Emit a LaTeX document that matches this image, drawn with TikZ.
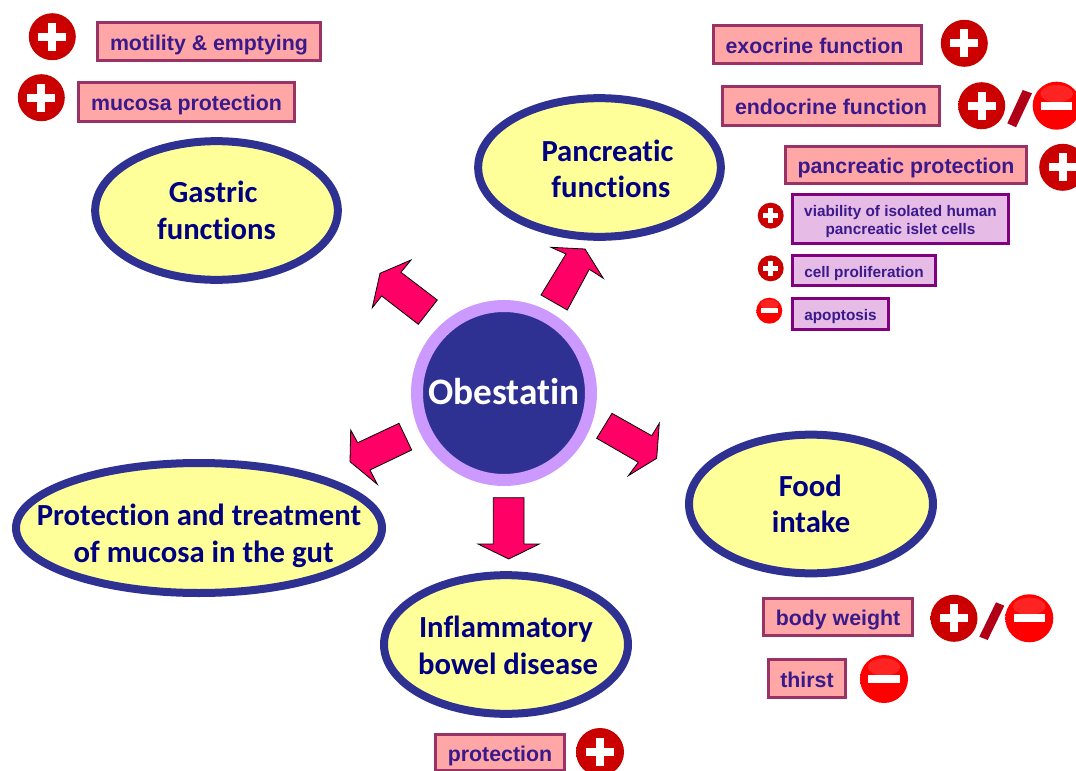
\documentclass[tikz,border=0pt]{standalone}
\usepackage{fontspec}
\usetikzlibrary{shapes.geometric}
\setmainfont{Liberation Sans}
\newfontfamily\carlito[Ligatures=NoCommon]{Carlito}
\definecolor{ringblue}{HTML}{2E3192}
\definecolor{ellfill}{HTML}{FFFF99}
\definecolor{ellbord}{HTML}{2E3192}
\definecolor{ellink}{HTML}{000080}
\definecolor{boxfill}{HTML}{FFA6A6}
\definecolor{boxbord}{HTML}{993366}
\definecolor{boxink}{HTML}{3A1A8A}
\definecolor{subfill}{HTML}{E6BBE6}
\definecolor{subbord}{HTML}{800080}
\definecolor{arrowred}{HTML}{FF0066}
\definecolor{halo}{HTML}{CC99FF}
\definecolor{slashred}{HTML}{B00018}
\definecolor{pa}{HTML}{D80000}
\definecolor{pb}{HTML}{BE0000}
\definecolor{pc}{HTML}{7E0000}
\definecolor{ma}{HTML}{FF0000}
\definecolor{mb}{HTML}{FF6060}
\definecolor{mc}{HTML}{F01A1A}
\definecolor{md}{HTML}{C00000}
\pgfdeclareradialshading{plusshade}{\pgfpoint{0bp}{0bp}}{color(0bp)=(pa); color(36bp)=(pb); color(50bp)=(pc); color(100bp)=(pc)}
\pgfdeclareradialshading{minusshade}{\pgfpoint{0bp}{0bp}}{color(0bp)=(ma); color(40bp)=(ma); color(44bp)=(mb); color(47bp)=(mc); color(50bp)=(md); color(100bp)=(md)}
\tikzset{
  x=0.75pt,y=-0.75pt,
  ellipsebox/.style={ellipse,draw=ellbord,line width=6pt,fill=ellfill,inner sep=-30pt,
     text=ellink,align=center,font=\carlito\bfseries\fontsize{23}{27.5}\selectfont},
  pinkbox/.style={rectangle,draw=boxbord,line width=2pt,fill=boxfill,inner sep=0pt,
     text height=16pt,text depth=3.2pt,
     text=boxink,font=\bfseries\fontsize{16}{18}\selectfont},
  lilacbase/.style={rectangle,draw=subbord,line width=2pt,fill=subfill,inner sep=0pt,
     text=boxink,font=\bfseries\fontsize{11.5}{13.5}\selectfont},
  lilacbox/.style={lilacbase,text height=12.65pt,text depth=2.53pt},
  lilactwo/.style={lilacbase,align=center},
  blockarrow/.style={draw=black,line width=0.6pt,fill=arrowred,line join=miter},
  plusball/.style={circle,inner sep=0pt,draw=none,shading=plusshade},
  minusball/.style={circle,inner sep=0pt,draw=none,shading=minusshade},
  signbar/.style={fill=white,draw=none},
  slash/.style={fill=slashred,draw=none},
}
\newcommand{\plussign}[4]{% name x y r
  \node[plusball,minimum size=#4*1.5pt] (#1) at (#2,#3) {};
  \fill[signbar] (#2-#4*0.59,#3-#4*0.17) rectangle (#2+#4*0.59,#3+#4*0.17);
  \fill[signbar] (#2-#4*0.17,#3-#4*0.59) rectangle (#2+#4*0.17,#3+#4*0.59);
}
\newcommand{\minussign}[4]{%
  \node[minusball,minimum size=#4*1.5pt] (#1) at (#2,#3) {};
  \fill[white,opacity=.14] (#2,#3-#4*0.5) ellipse ({#4*0.68} and {#4*0.36});
  \fill[signbar] (#2-#4*0.65,#3-#4*0.17) rectangle (#2+#4*0.65,#3+#4*0.17);
}
\newcommand{\labelbox}[7]{% style name x1 y1 x2 y2 text
  \node[#1,minimum width=(#5-#3)*0.75pt-2pt,minimum height=(#6-#4)*0.75pt-2pt] (#2) at ({(#3+#5)/2},{(#4+#6)/2}) {#7};
}
\begin{document}
\begin{tikzpicture}
\useasboundingbox (0,0) rectangle (1076,771);
\clip (0,0) rectangle (1076,771);
\fill[white] (0,0) rectangle (1076,771);

% block arrows
\draw[blockarrow] (541,295) -- (566,254) -- (551,247.3) -- (585,249) -- (603.3,278.3) -- (589.3,269.3) -- (567.3,310) -- cycle;
\draw[blockarrow] (437.3,300) -- (418.3,324.3) -- (381.7,296) -- (372.3,307.7) -- (380,273.3) -- (411,260) -- (401,272.3) -- cycle;
\draw[blockarrow] (612,413.3) -- (596.7,438.3) -- (638.3,462.3) -- (628.3,475.7) -- (656.7,458.3) -- (659.3,423.3) -- (651.7,435.7) -- cycle;
\draw[blockarrow] (399,423.3) -- (411.7,450) -- (370,470) -- (377.3,484.3) -- (350,461.7) -- (350.7,430) -- (357.7,442.7) -- cycle;
\draw[blockarrow] (493.3,497.7) -- (524,497.7) -- (524,544) -- (539.3,544) -- (508.7,559) -- (478,544) -- (493.3,544) -- cycle;

% centre
\node[circle,fill=ringblue,draw=halo,line width=9pt,minimum size=174*.75pt,inner sep=-20pt,text=white,
      font=\carlito\bfseries\fontsize{28}{30}\selectfont] (obestatin) at (504,393) {\raisebox{2.5pt}{Obestatin}};

% ellipses
\node[ellipsebox,minimum width=182pt,minimum height=104pt] (gastric) at (216.5,210.5) {Gastric\hspace*{5pt}\\functions};
\node[ellipsebox,minimum width=182pt,minimum height=104pt] (pancreas) at (599.5,167.5) {\rule{0pt}{18pt}\hspace*{12pt}Pancreatic\\\hspace*{17pt}functions};
\node[ellipsebox,minimum width=183pt,minimum height=104pt] (food) at (811,504) {\rule{0pt}{15pt}Food\hspace*{1pt}\\intake};
\node[ellipsebox,minimum width=274.5pt,minimum height=97.5pt] (mucosa) at (199,528) {\rule{0pt}{28pt}Protection and treatment\\\hspace*{7pt}of mucosa in the gut};
\node[ellipsebox,minimum width=183pt,minimum height=104pt] (ibd) at (506,644.5) {\rule{0pt}{17pt}Inflammatory\\\hspace*{3pt}bowel disease};

% pink boxes
\labelbox{pinkbox}{motility}{96}{21}{322}{62}{motility \& emptying}
\labelbox{pinkbox}{mucprot}{77}{81}{296}{123}{mucosa protection}
\labelbox{pinkbox}{exocrine}{712}{24}{923}{65}{exocrine function\hspace*{4.5pt}}
\labelbox{pinkbox}{endocrine}{721}{85}{941}{127}{endocrine function}
\labelbox{pinkbox}{panprot}{784}{145}{1028}{185}{pancreatic protection}
\labelbox{pinkbox}{bodyweight}{762}{597}{914}{637}{body weight}
\labelbox{pinkbox}{thirst}{767}{658}{847}{699}{thirst}
\labelbox{pinkbox}{protect}{434}{733}{566}{772}{protection}

% lilac boxes
\labelbox{lilactwo}{viability}{791}{193}{1010}{245}{\rule{0pt}{11.5pt}viability of isolated human\\pancreatic islet cells}
\labelbox{lilacbox}{prolif}{791}{254}{937}{287}{cell proliferation}
\labelbox{lilacbox}{apoptosis}{791}{297}{890}{331}{apoptosis}

% signs
\plussign{p1}{52.3}{36.7}{23.5}
\plussign{p2}{41.3}{97.7}{23.5}
\plussign{p3}{964.3}{43.3}{23.5}
\plussign{p4}{981.7}{105.7}{23.5}
\draw[slash] (1007.3,123.3) -- (1022.7,90) -- (1032,93.3) -- (1016,127.3) -- cycle;
\minussign{m1}{1056.7}{105.7}{24}
\plussign{p5}{1062.7}{167.3}{23.5}
\plussign{p6}{770.7}{215.7}{13}
\plussign{p7}{770.7}{268.3}{13}
\minussign{m2}{769.3}{310.7}{13}
\plussign{p8}{954}{618.3}{23.5}
\draw[slash] (979.3,636.7) -- (996,602.3) -- (1004.3,605.7) -- (987.7,640) -- cycle;
\minussign{m3}{1029.3}{618.3}{24}
\minussign{m4}{884}{679}{24}
\plussign{p9}{600}{752}{24}
\end{tikzpicture}
\end{document}
